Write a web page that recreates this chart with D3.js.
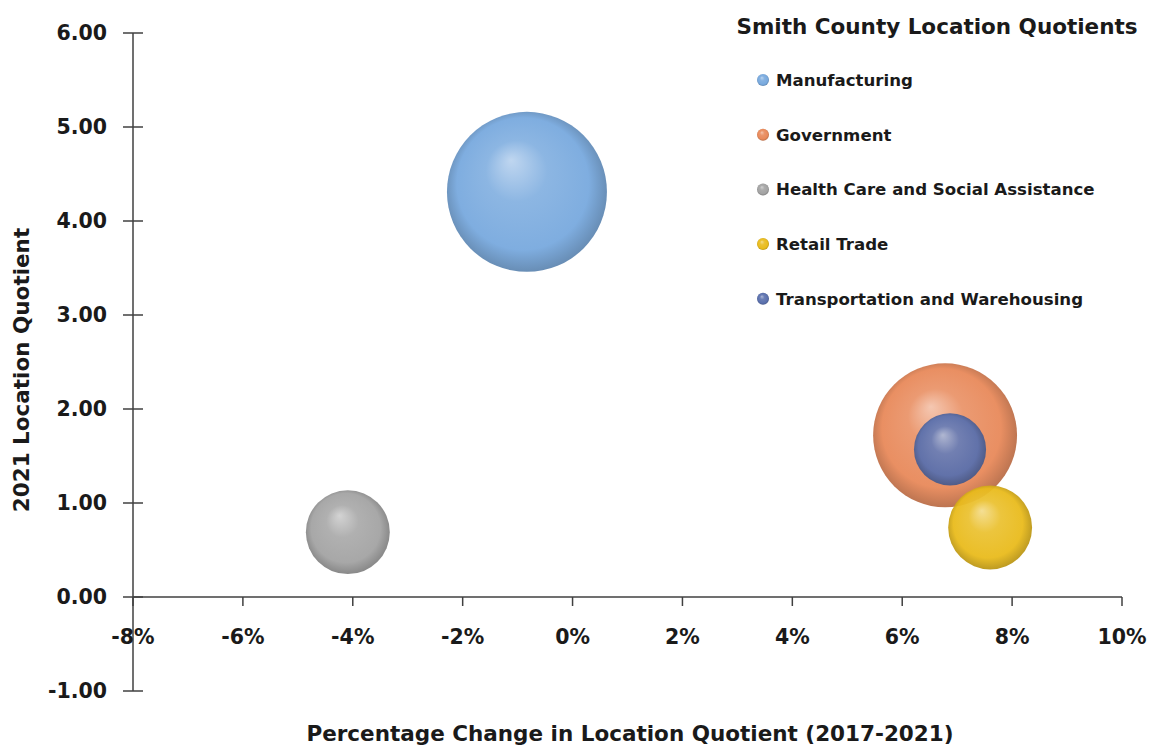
<!DOCTYPE html>
<html>
<head>
<meta charset="utf-8">
<script src="https://cdn.jsdelivr.net/npm/d3@7"></script>
<style>
  body { margin: 0; background: #fff; }
  svg text { font-family: "DejaVu Sans", sans-serif; font-weight: 700; fill: #1a1a1a; }
</style>
</head>
<body>
<svg id="chart" width="1152" height="747"></svg>
<script>
// data
var industries = ['Manufacturing', 'Government', 'Health Care and Social Assistance', 'Retail Trade', 'Transportation and Warehousing'];
var pctChange = [-0.83, 6.78, -4.09, 7.60, 6.87];   // % change in LQ 2017-2021
var lq2021 = [4.31, 1.72, 0.69, 0.74, 1.57];
var bubbleSize = [3200, 2590, 880, 880, 650];
var colors = ['#78a9de', '#e8895a', '#a3a3a3', '#e9bb1c', '#5a70ad'];
var xTicks = [-8, -6, -4, -2, 0, 2, 4, 6, 8, 10];
var yTicks = [-1, 0, 1, 2, 3, 4, 5, 6];

var svg = d3.select('#chart');

var x = d3.scaleLinear().domain([-8, 10]).range([133, 1122]);
var y = d3.scaleLinear().domain([-1, 6]).range([691, 33]);
var r = d3.scaleSqrt().domain([0, 3200]).range([0, 80]);

// sphere-ish gradients
var defs = svg.append('defs');
colors.forEach(function(c, i) {
  var base = d3.color(c);
  var g = defs.append('radialGradient')
    .attr('id', 'ball' + i)
    .attr('cx', '0.5').attr('cy', '0.5').attr('r', '0.55')
    .attr('fx', '0.4').attr('fy', '0.3');
  g.append('stop').attr('offset', '0%').attr('stop-color', d3.interpolateRgb(c, '#ffffff')(0.5));
  g.append('stop').attr('offset', '35%').attr('stop-color', d3.interpolateRgb(c, '#ffffff')(0.1));
  g.append('stop').attr('offset', '75%').attr('stop-color', c);
  g.append('stop').attr('offset', '100%').attr('stop-color', base.darker(0.9));
});

// y axis (ticks cross the line)
var yAxis = svg.append('g').attr('transform', 'translate(' + x(-8) + ',0)');
yAxis.append('line')
  .attr('y1', y(-1)).attr('y2', y(6))
  .attr('stroke', '#404040').attr('stroke-width', 1.5);
yAxis.selectAll('.yt').data(yTicks).enter().append('line')
  .attr('x1', -10).attr('x2', 10)
  .attr('y1', function(d) { return y(d); }).attr('y2', function(d) { return y(d); })
  .attr('stroke', '#404040').attr('stroke-width', 1.5);
yAxis.selectAll('.yl').data(yTicks).enter().append('text')
  .attr('x', -26).attr('y', function(d) { return y(d); })
  .attr('dy', '0.35em').attr('text-anchor', 'end')
  .style('font-size', '20.5px')
  .text(function(d) { return d3.format('.2f')(d).replace('\u2212', '-'); });

// x axis along y = 0
var xAxis = svg.append('g').attr('transform', 'translate(0,' + y(0) + ')');
xAxis.append('line')
  .attr('x1', x(-8)).attr('x2', x(10))
  .attr('stroke', '#404040').attr('stroke-width', 1.5);
xAxis.selectAll('.xt').data(xTicks).enter().append('line')
  .attr('x1', function(d) { return x(d); }).attr('x2', function(d) { return x(d); })
  .attr('y1', 0).attr('y2', 9)
  .attr('stroke', '#404040').attr('stroke-width', 1.5);
xAxis.selectAll('.xl').data(xTicks).enter().append('text')
  .attr('x', function(d) { return x(d); }).attr('y', 47)
  .attr('text-anchor', 'middle')
  .style('font-size', '20.5px')
  .text(function(d) { return d + '%'; });

// axis titles
svg.append('text')
  .attr('x', 630).attr('y', 741)
  .attr('text-anchor', 'middle')
  .style('font-size', '21.5px')
  .text('Percentage Change in Location Quotient (2017-2021)');
svg.append('text')
  .attr('transform', 'translate(29,370) rotate(-90)')
  .attr('text-anchor', 'middle')
  .style('font-size', '21.5px')
  .text('2021 Location Quotient');

// bubbles
var data = industries.map(function(name, i) {
  return { name: name, x: pctChange[i], y: lq2021[i], size: bubbleSize[i], i: i };
});
svg.append('g').selectAll('circle').data(data).enter().append('circle')
  .attr('cx', function(d) { return x(d.x); })
  .attr('cy', function(d) { return y(d.y); })
  .attr('r', function(d) { return r(d.size); })
  .attr('fill', function(d) { return 'url(#ball' + d.i + ')'; })
  .attr('fill-opacity', 0.95);

// legend
svg.append('text')
  .attr('x', 937).attr('y', 34)
  .attr('text-anchor', 'middle')
  .style('font-size', '21.5px')
  .text('Smith County Location Quotients');
var leg = svg.append('g').selectAll('g').data(data).enter().append('g')
  .attr('transform', function(d, i) { return 'translate(763,' + (80 + i * 54.7) + ')'; });
leg.append('circle').attr('r', 6)
  .attr('fill', function(d) { return 'url(#ball' + d.i + ')'; });
leg.append('text')
  .attr('x', 13).attr('dy', '0.35em')
  .style('font-size', '16.6px')
  .text(function(d) { return d.name; });
</script>
</body>
</html>
